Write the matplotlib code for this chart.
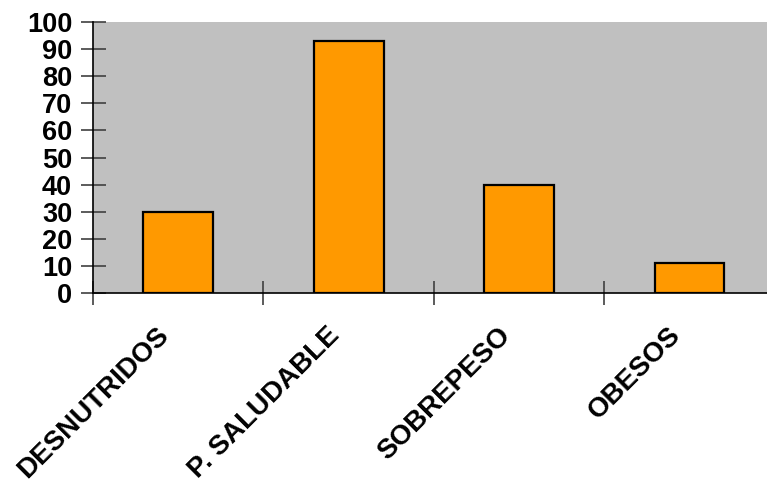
import matplotlib
matplotlib.use('Agg')
import matplotlib.pyplot as plt
import matplotlib.transforms as mtransforms

categorias = ['DESNUTRIDOS', 'P. SALUDABLE', 'SOBREPESO', 'OBESOS']
valores = [30, 93, 40, 11]
yticks = [0, 10, 20, 30, 40, 50, 60, 70, 80, 90, 100]

plt.rcParams['font.family'] = ['Liberation Sans', 'DejaVu Sans']
plt.rcParams['font.weight'] = 'bold'

fig = plt.figure(figsize=(7.67, 4.84), dpi=100)
ax = fig.add_axes([93/767, 1 - 293/484, 1 - 93/767, (293 - 22)/484])
ax.set_facecolor('#C0C0C0')

x = range(len(categorias))
ax.bar(x, valores, width=0.41, color='#FF9900', edgecolor='black', linewidth=1.6, zorder=3)

ax.set_xlim(-0.5, 3.455)
ax.set_ylim(0, 100)
ax.set_yticks(yticks)
ax.set_yticklabels([str(v) for v in yticks], fontsize=19.5, fontweight='bold')

# ticks marks between categories, labels at centres
ax.set_xticks([-0.5, 0.5, 1.5, 2.5])
ax.set_xticklabels([])
ax.set_xticks(list(x), minor=True)
ax.set_xticklabels(categorias, minor=True, rotation=45, ha='right', va='top',
                   rotation_mode='anchor', fontsize=20, fontweight='bold')
ax.tick_params(axis='x', which='minor', length=0, pad=21)
ax.tick_params(axis='x', which='major', direction='inout', length=17, color='#404040', width=1.2)
ax.tick_params(axis='y', direction='inout', length=18, color='#404040', width=1.2, pad=6)

offset = mtransforms.ScaledTranslation(-22/100, 0, fig.dpi_scale_trans)
for lab in ax.get_xticklabels(minor=True):
    lab.set_transform(lab.get_transform() + offset)

for s in ['top', 'right']:
    ax.spines[s].set_visible(False)
ax.spines['left'].set_linewidth(1.2)
ax.spines['bottom'].set_linewidth(1.2)

fig.savefig('out.png', dpi=100)
